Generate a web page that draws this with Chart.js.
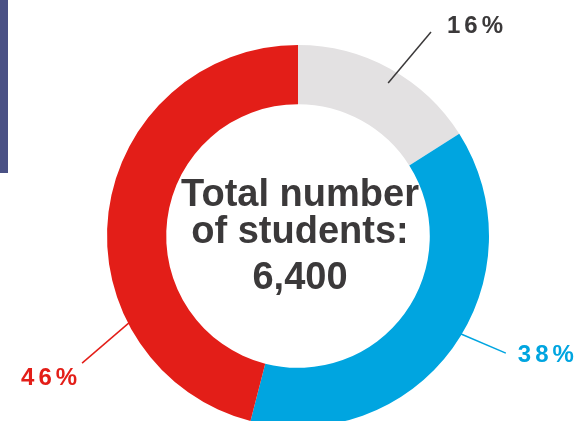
<!DOCTYPE html>
<html lang="en">
<head>
    <meta charset="UTF-8">
    <title>Total number of students</title>
    <script src="https://cdn.jsdelivr.net/npm/chart.js"></script>
    <style>
        html, body { margin: 0; padding: 0; background: #fff; overflow: hidden; }
        #bar { position: absolute; left: 0; top: 0; width: 8px; height: 173px; background: #4a5185; }
        #wrap { position: relative; width: 580px; height: 440px; }
    </style>
</head>
<body>
    <div id="bar"></div>
    <div id="wrap"><canvas id="studentsChart"></canvas></div>

    <script>
        // data
        const categories = ['Other', 'Blue group', 'Red group'];
        const shares = [16, 38, 46];
        const colours = ['#e3e1e2', '#00a5e0', '#e31e18'];
        const centerLines = ['Total number', 'of students:', '6,400'];

        // callout lines: angle (deg, clockwise from top) and radius (x outer radius)
        const callouts = [
            { a1: 30.5, r1: 0.93, a2: 33.1, r2: 1.275, dx: 16, dy: 1, align: 'left', line: '#3b393a', text: '#3b393a' },
            { a1: 121.0, r1: 0.996, a2: 119.4, r2: 1.249, dx: 12, dy: 9, align: 'left', line: '#00a5e0', text: '#00a5e0' },
            { a1: 242.8, r1: 0.995, a2: 239.5, r2: 1.312, dx: -1, dy: 22, align: 'right', line: '#e31e18', text: '#e31e18' }
        ];

        function polar(cx, cy, r, deg) {
            const a = deg * Math.PI / 180;
            return [cx + r * Math.sin(a), cy - r * Math.cos(a)];
        }

        const decorations = {
            id: 'decorations',
            afterDatasetsDraw(chart) {
                const arc = chart.getDatasetMeta(0).data[0];
                const cx = arc.x, cy = arc.y, R = arc.outerRadius;
                const ctx = chart.ctx;
                ctx.save();

                // centre text
                ctx.fillStyle = '#3b393a';
                ctx.textAlign = 'center';
                ctx.textBaseline = 'alphabetic';
                ctx.font = 'bold 38px "Liberation Sans", Arial, sans-serif';
                const offsets = [-30, 7, 53];
                centerLines.forEach((t, i) => ctx.fillText(t, cx + 2, cy + offsets[i]));

                // callouts
                ctx.font = 'bold 24px "Liberation Sans", Arial, sans-serif';
                ctx.letterSpacing = '4px';
                callouts.forEach((c, i) => {
                    const p1 = polar(cx, cy, R * c.r1, c.a1);
                    const p2 = polar(cx, cy, R * c.r2, c.a2);
                    ctx.strokeStyle = c.line;
                    ctx.lineWidth = 1.5;
                    ctx.beginPath();
                    ctx.moveTo(p1[0], p1[1]);
                    ctx.lineTo(p2[0], p2[1]);
                    ctx.stroke();
                    ctx.fillStyle = c.text;
                    ctx.textAlign = c.align;
                    ctx.fillText(shares[i] + '%', p2[0] + c.dx, p2[1] + c.dy);
                });
                ctx.restore();
            }
        };

        const ctx = document.getElementById('studentsChart').getContext('2d');
        const studentsChart = new Chart(ctx, {
            type: 'doughnut',
            data: {
                labels: categories,
                datasets: [{
                    data: shares,
                    backgroundColor: colours,
                    borderWidth: 0
                }]
            },
            options: {
                responsive: true,
                maintainAspectRatio: false,
                animation: false,
                cutout: '69%',
                layout: { padding: { left: 107, right: 91, top: 45, bottom: 13 } },
                plugins: {
                    legend: { display: false },
                    tooltip: { enabled: false }
                }
            },
            plugins: [decorations]
        });
    </script>
</body>
</html>
